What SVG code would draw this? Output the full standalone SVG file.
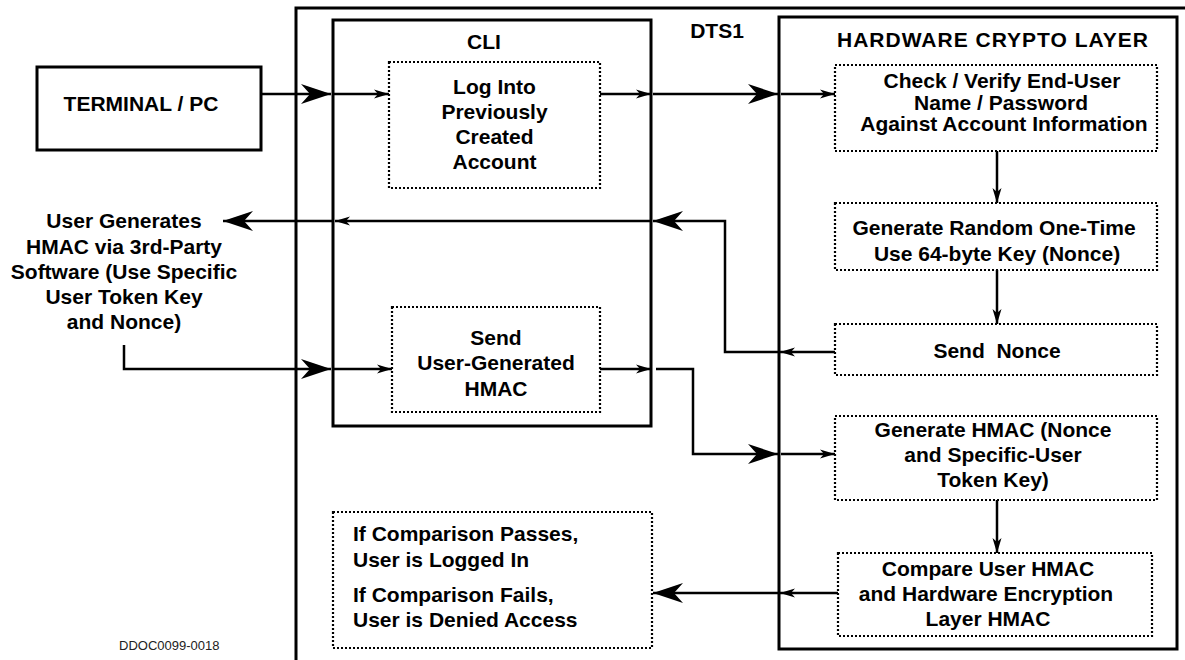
<svg xmlns="http://www.w3.org/2000/svg" width="1185" height="660" viewBox="0 0 1185 660">
<style>
.t{font-family:"Liberation Sans",Arial,sans-serif;font-weight:bold;font-size:21px;fill:#000;text-anchor:middle}
.tl{text-anchor:start}
.title{letter-spacing:1px}
.solid{fill:none;stroke:#000;stroke-width:3}
.dot{fill:#fff;stroke:#000;stroke-width:2.2;stroke-dasharray:2 2}
.c{fill:none;stroke:#000;stroke-width:2.5}
.big{marker-end:url(#big)}
.sm{marker-end:url(#sm)}
.note{font-family:"Liberation Sans",Arial,sans-serif;font-size:13px;fill:#222}
</style>
<defs>
<marker id="big" markerUnits="userSpaceOnUse" markerWidth="34" markerHeight="24" viewBox="-32 -12 34 24" refX="0" refY="0" orient="auto">
<path d="M0,0 L-30,-10 L-21,0 L-30,10 Z" fill="#000"/>
</marker>
<marker id="sm" markerUnits="userSpaceOnUse" markerWidth="18" markerHeight="12" viewBox="-16 -6 18 12" refX="0" refY="0" orient="auto">
<path d="M0,0 L-15,-4.5 L-11,0 L-15,4.5 Z" fill="#000"/>
</marker>
</defs>
<rect width="1185" height="660" fill="#fff"/>

<g id="dts1">
<path class="solid" d="M296,662 V8 H1187"/>
<text class="t" x="717" y="38">DTS1</text>
</g>
<g id="cli">
<rect class="solid" x="333" y="20" width="318" height="406"/>
<text class="t" x="484" y="49">CLI</text>
</g>
<g id="hw">
<rect class="solid" x="779" y="17" width="398" height="632"/>
<text class="t title" x="993" y="47">HARDWARE CRYPTO LAYER</text>
</g>
<g id="terminal">
<rect class="solid" x="37" y="67" width="224" height="83"/>
<text class="t" x="141" y="111">TERMINAL / PC</text>
</g>
<g id="login">
<rect class="dot" x="389" y="62" width="211" height="126"/>
<text class="t" x="494.5" y="94">Log Into</text>
<text class="t" x="494.5" y="119">Previously</text>
<text class="t" x="494.5" y="144">Created</text>
<text class="t" x="494.5" y="169">Account</text>
</g>
<g id="check">
<rect class="dot" x="835" y="65" width="322" height="86"/>
<text class="t" x="1002" y="88">Check / Verify End-User</text>
<text class="t" x="1001" y="110">Name / Password</text>
<text class="t" x="1004" y="131">Against Account Information</text>
</g>
<g id="random">
<rect class="dot" x="835" y="203" width="322" height="67"/>
<text class="t" x="994" y="235">Generate Random One-Time</text>
<text class="t" x="997" y="261">Use 64-byte Key (Nonce)</text>
</g>
<g id="sendnonce">
<rect class="dot" x="835" y="324" width="322" height="51"/>
<text class="t" x="997" y="358" xml:space="preserve">Send  Nonce</text>
</g>
<g id="user">
<text class="t" x="124" y="228">User Generates</text>
<text class="t" x="124" y="254">HMAC via 3rd-Party</text>
<text class="t" x="124" y="279">Software (Use Specific</text>
<text class="t" x="124" y="304">User Token Key</text>
<text class="t" x="124" y="329">and Nonce)</text>
</g>
<g id="sendhmac">
<rect class="dot" x="392" y="307" width="208" height="105"/>
<text class="t" x="496" y="345">Send</text>
<text class="t" x="496" y="370">User-Generated</text>
<text class="t" x="496" y="396">HMAC</text>
</g>
<g id="genhmac">
<rect class="dot" x="835" y="416" width="322" height="84"/>
<text class="t" x="993" y="437">Generate HMAC (Nonce</text>
<text class="t" x="993" y="462">and Specific-User</text>
<text class="t" x="993" y="487">Token Key)</text>
</g>
<g id="compare">
<rect class="dot" x="838" y="553" width="314" height="83"/>
<text class="t" x="988" y="576">Compare User HMAC</text>
<text class="t" x="986" y="601">and Hardware Encryption</text>
<text class="t" x="988" y="626">Layer HMAC</text>
</g>
<g id="result">
<rect class="dot" x="333" y="512" width="319" height="136"/>
<text class="t tl" x="353" y="541">If Comparison Passes,</text>
<text class="t tl" x="353" y="567">User is Logged In</text>
<text class="t tl" x="353" y="602">If Comparison Fails,</text>
<text class="t tl" x="353" y="627">User is Denied Access</text>
</g>
<g id="label">
<text class="note" x="119" y="650">DDOC0099-0018</text>
</g>

<g id="connectors">
<path class="c big" d="M261,94 H331"/>
<path class="c sm" d="M333,94 H389"/>
<path class="c sm" d="M600,94 H651"/>
<path class="c big" d="M653,94 H778"/>
<path class="c sm" d="M781,94 H835"/>
<path class="c sm" d="M997,151 V203"/>
<path class="c sm" d="M997,270 V324"/>
<path class="c sm" d="M835,352 H780"/>
<path class="c big" d="M779,352 H725 V221 H653"/>
<path class="c sm" d="M651,221 H335"/>
<path class="c big" d="M333,221 H223"/>
<path class="c big" d="M124,345 V369 H331"/>
<path class="c sm" d="M333,369 H392"/>
<path class="c sm" d="M600,369 H651"/>
<path class="c big" d="M656,369 H693 V454 H778"/>
<path class="c sm" d="M781,454 H835"/>
<path class="c sm" d="M997,500 V553"/>
<path class="c sm" d="M838,593 H780"/>
<path class="c big" d="M779,593 H653"/>
</g>
</svg>
